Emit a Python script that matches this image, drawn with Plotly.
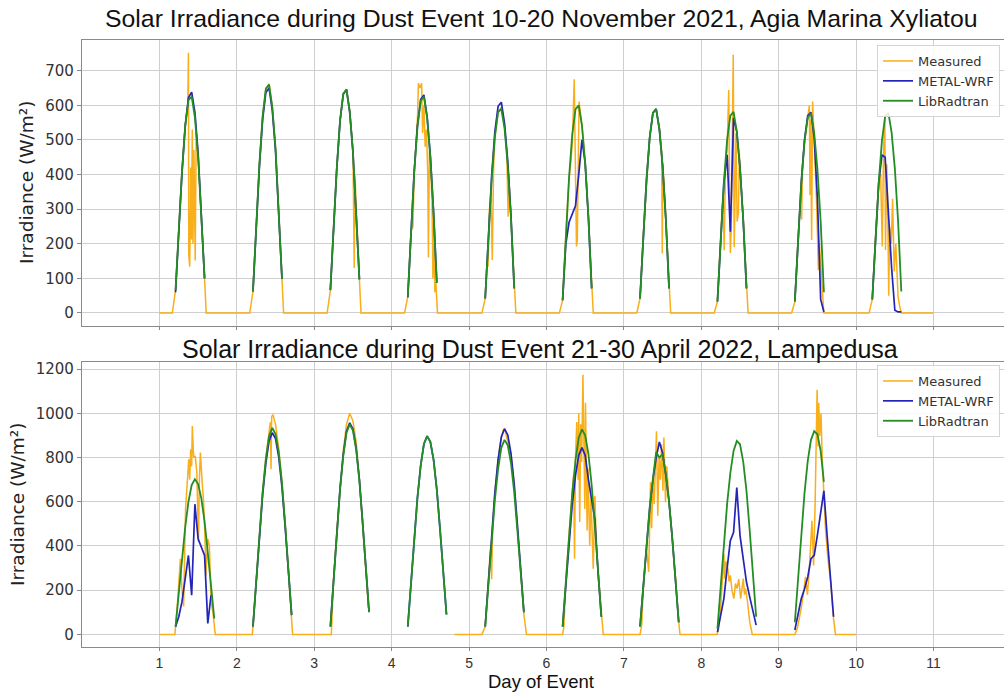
import plotly.graph_objects as go

# ---------------- DATA ----------------
# Top panel: 10-20 November 2021, Agia Marina Xyliatou (hourly model output, UTC hours)
NOV_DAYS = [1, 2, 3, 4, 5, 6, 7, 8, 9, 10]
NOV_HOURS = [5, 6, 7, 8, 9, 10, 11, 12, 13, 14]

NOV_LIBRADTRAN = [
    [66, 240, 408, 540, 615, 625, 565, 452, 289, 100],
    [62, 251, 430, 568, 648, 660, 595, 476, 304, 98],
    [66, 245, 420, 556, 633, 646, 581, 465, 297, 97],
    [47, 238, 406, 538, 613, 625, 563, 450, 288, 87],
    [42, 225, 385, 509, 580, 590, 533, 426, 272, 71],
    [37, 228, 391, 517, 589, 600, 541, 433, 276, 71],
    [42, 224, 384, 507, 578, 589, 531, 425, 271, 71],
    [33, 221, 378, 500, 570, 581, 524, 419, 268, 71],
    [33, 219, 375, 496, 566, 577, 520, 415, 265, 60],
    [39, 220, 376, 498, 567, 578, 521, 417, 266, 62],
]

NOV_METAL_WRF = [
    [60, 236, 405, 540, 622, 638, 580, 462, 295, 100],
    [62, 247, 423, 559, 637, 650, 585, 468, 299, 98],
    [66, 245, 420, 555, 632, 645, 581, 465, 297, 97],
    [45, 240, 410, 542, 617, 630, 567, 454, 290, 87],
    [42, 231, 396, 524, 597, 609, 548, 438, 280, 71],
    [37, 200, 262, 285, 310, 400, 500, 433, 276, 71],
    [42, 224, 384, 507, 578, 590, 531, 425, 271, 71],
    [33, 215, 375, 457, 235, 563, 524, 419, 268, 71],
    [33, 219, 378, 500, 570, 580, 505, 330, 40, 3],
    [39, 220, 376, 457, 450, 290, 130, 8, 3, 3],
]

# Measured: (hour, W/m2) pairs per day
NOV_MEAS_D1 = [(0, 0), (4.0, 0), (5, 66), (6, 240), (7, 410), (8, 545), (8.8, 600), (9.0, 752), (9.1, 170),
               (9.4, 134), (9.7, 420), (9.9, 212), (10.2, 530), (10.4, 200), (10.7, 471), (11.1, 152),
               (11.4, 520), (12, 452), (13, 290), (14, 100), (14.5, 0)]
NOV_MEAS_D2 = [(4.0, 0), (5, 62), (6, 251), (7, 430), (8, 568), (9, 648), (10, 662), (11, 595), (12, 476),
               (13, 304), (14, 98), (14.5, 0)]
NOV_MEAS_D3 = [(4.0, 0), (5, 66), (6, 245), (7, 420), (8, 556), (9, 633), (10, 646), (11, 585), (12, 470),
               (12.4, 130), (12.6, 400), (13, 297), (14, 97), (14.5, 0)]
NOV_MEAS_D4 = [(4.0, 0), (5, 47), (6, 238), (6.6, 250), (7, 406), (8, 560), (8.3, 664), (8.8, 650), (9.3, 664),
               (9.6, 520), (10, 600), (10.4, 480), (10.8, 530), (11.2, 400), (11.4, 160), (11.7, 470),
               (12, 440), (12.5, 330), (12.8, 100), (13, 270), (13.4, 60), (13.7, 90), (14.2, 0)]
NOV_MEAS_D5 = [(4.0, 0), (5, 42), (5.6, 150), (5.9, 134), (6.3, 300), (6.8, 330), (7.2, 153), (7.6, 420),
               (8, 509), (9, 580), (10, 595), (11, 540), (11.7, 460), (12.1, 278), (12.3, 400), (13, 272),
               (14, 71), (14.5, 0)]
NOV_MEAS_D6 = [(4.0, 0), (5, 37), (6, 228), (7, 391), (7.6, 440), (8.05, 500), (8.6, 675), (9.0, 420),
               (9.3, 192), (9.55, 211), (9.8, 520), (10.1, 611), (11, 541), (12, 433), (13, 276), (14, 71),
               (14.5, 0)]
NOV_MEAS_D7 = [(4.0, 0), (5, 42), (6, 224), (7, 384), (8, 507), (9, 578), (10, 588), (11, 531), (11.7, 470),
               (11.9, 172), (12.1, 430), (13, 271), (14, 71), (14.5, 0)]
NOV_MEAS_D8 = [(4.0, 0), (5, 33), (6, 221), (6.7, 340), (7.1, 181), (7.5, 430), (8.0, 470), (8.5, 644),
               (8.8, 300), (9.0, 173), (9.3, 250), (9.6, 480), (9.9, 746), (10.2, 190), (10.5, 450),
               (10.75, 520), (11.1, 264), (11.5, 289), (11.8, 460), (12, 419), (13, 268), (14, 71), (14.5, 0)]
NOV_MEAS_D9 = [(4.0, 0), (5, 33), (6, 219), (6.8, 330), (7.1, 270), (7.4, 430), (8, 496), (9, 566), (9.5, 600),
               (9.7, 341), (9.9, 560), (10.2, 211), (10.5, 611), (10.8, 540), (11, 515), (11.8, 300),
               (12.3, 124), (12.6, 200), (13, 140), (13.5, 40), (14, 0)]
NOV_MEAS_D10 = [(4.0, 0), (5, 39), (6, 220), (7, 376), (7.6, 400), (8.1, 192), (8.5, 470), (8.9, 575),
                (9.1, 182), (9.5, 430), (9.8, 300), (10.1, 50), (10.4, 250), (10.9, 200), (11.3, 330),
                (11.8, 120), (12.3, 200), (13.0, 47), (13.5, 20), (14, 0), (24, 0)]
NOV_MEASURED = [NOV_MEAS_D1, NOV_MEAS_D2, NOV_MEAS_D3, NOV_MEAS_D4, NOV_MEAS_D5,
                NOV_MEAS_D6, NOV_MEAS_D7, NOV_MEAS_D8, NOV_MEAS_D9, NOV_MEAS_D10]

# Bottom panel: 21-30 April 2022, Lampedusa
APR_DAYS = [1, 2, 3, 4, 5, 6, 7, 8, 9]
APR_HOURS = [5, 6, 7, 8, 9, 10, 11, 12, 13, 14, 15, 16, 17]

APR_LIBRADTRAN = [
    [35, 180, 345, 485, 600, 675, 702, 680, 615, 510, 370, 215, 72],
    [35, 243, 458, 645, 794, 897, 934, 906, 822, 682, 495, 290, 87],
    [35, 247, 466, 656, 808, 912, 950, 922, 836, 694, 504, 295, 102],
    [35, 233, 440, 620, 763, 861, 897, 871, 789, 655, 475, 278, 90],
    [35, 229, 431, 608, 748, 845, 880, 855, 774, 642, 466, 273, 100],
    [35, 241, 454, 640, 788, 890, 927, 900, 816, 677, 491, 287, 80],
    [35, 215, 405, 575, 705, 825, 800, 815, 725, 600, 435, 255, 55],
    [25, 215, 410, 590, 730, 830, 875, 860, 780, 650, 470, 280, 80],
    [55, 245, 455, 640, 785, 880, 919, 905, 830, 690, None, None, None],
]

APR_METAL_WRF = [
    [35, 80, 148, 250, 357, 177, 589, 432, 390, 357, 50, 177, None],
    [35, 237, 447, 630, 775, 875, 912, 885, 802, 665, 483, 283, 87],
    [35, 249, 469, 661, 814, 919, 957, 929, 842, 699, 508, 297, 100],
    [35, 233, 440, 620, 763, 861, 897, 871, 789, 655, 475, 278, 90],
    [35, 242, 456, 642, 791, 893, 930, 902, 818, 679, 493, 288, 100],
    [35, 225, 420, 590, 720, 810, 845, 810, 700, 612, 520, 280, 80],
    [35, 215, 405, 570, 700, 800, 870, 820, 720, 600, 435, 255, 55],
    [10, 80, 162, 300, 424, 462, 664, 447, 330, 237, 170, 100, 42],
    [20, 90, 162, 205, 260, 342, 357, 450, 560, 649, 447, 250, 80],
]

APR_MEAS_D1 = [(0, 0), (4.8, 0), (5.5, 117), (6.5, 342), (7.0, 200), (7.5, 126), (8.1, 567), (8.6, 702),
               (9.1, 792), (9.4, 700), (9.7, 837), (10.0, 760), (10.2, 942), (10.6, 800), (11.1, 807),
               (11.6, 733), (12.1, 418), (12.4, 700), (12.7, 822), (13.2, 700), (13.7, 600), (14.1, 450),
               (14.4, 267), (15.0, 432), (15.5, 400), (16.0, 148), (16.6, 100), (17.3, 0)]
APR_MEAS_D2 = [(4.8, 0), (5, 35), (6, 243), (7, 458), (8, 645), (9, 800), (10, 920), (10.4, 960), (10.6, 747),
               (10.8, 985), (11.2, 994), (12, 950), (13, 840), (14, 690), (15, 500), (16, 290), (17, 87),
               (17.3, 0)]
APR_MEAS_D3 = [(5.3, 0), (6, 250), (7, 470), (8, 665), (9, 830), (10, 950), (11, 1000), (12, 965), (13, 870),
               (14, 700), (15, 505), (16, 295), (16.8, 120), None]
APR_MEAS_D4 = [(19.5, 0)]
APR_MEAS_D5 = [(4.0, 0), (5, 35), (6, 240), (6.7, 400), (7.0, 250), (7.3, 480), (8, 640), (9, 790), (10, 890),
               (10.6, 925), (11, 930), (11.5, 900), (12, 880), (13, 815), (14, 675), (15, 490), (16, 285),
               (17, 90), (17.8, 0)]
APR_MEAS_D6 = [(5.0, 0), (5.4, 35), (6, 240), (7, 454), (8, 640), (8.4, 720), (8.7, 342), (9.0, 800),
               (9.4, 960), (9.8, 700), (10.0, 1000), (10.3, 508), (10.6, 950), (10.9, 780), (11.3, 1174),
               (11.6, 850), (11.9, 567), (12.1, 1048), (12.4, 700), (12.6, 470), (12.9, 750), (13.2, 560),
               (13.4, 402), (13.8, 620), (14.2, 450), (14.5, 297), (15.0, 627), (15.5, 380), (16, 280),
               (17, 80), (17.6, 0)]
APR_MEAS_D7 = [(5.0, 0), (5.5, 40), (6, 200), (7, 390), (7.7, 283), (8.0, 560), (8.25, 688), (8.6, 480),
               (9.0, 700), (9.4, 590), (9.8, 850), (10.1, 919), (10.5, 537), (10.9, 800), (11.3, 700),
               (11.7, 860), (12.1, 650), (12.4, 891), (12.9, 598), (13.3, 760), (14, 600), (15, 435),
               (16, 255), (17, 55), (17.4, 0)]
APR_MEAS_D8 = [(4.8, 0), (5.3, 20), (6, 120), (6.6, 250), (7.0, 364), (7.2, 252), (7.6, 330), (8.2, 300),
               (8.6, 240), (9.0, 267), (9.5, 200), (10.1, 162), (10.6, 230), (11.1, 207), (11.6, 250),
               (12.2, 162), (12.6, 220), (13.0, 252), (13.4, 180), (13.7, 207), (14.3, 150), (15.0, 58),
               (15.8, 0)]
APR_MEAS_D9 = [(5.0, 0), (5.8, 30), (7.0, 120), (7.8, 200), (8.3, 260), (8.9, 180), (9.5, 300), (10.3, 514),
               (10.8, 312), (11.3, 600), (11.9, 1107), (12.2, 850), (12.4, 1048), (12.7, 897), (13.1, 1000),
               (13.5, 792), (14.0, 650), (14.5, 477), (15.2, 350), (16.1, 238), (17.0, 70), (17.6, 0),
               (24, 0)]
APR_MEASURED = [APR_MEAS_D1, APR_MEAS_D2, APR_MEAS_D3, APR_MEAS_D4, APR_MEAS_D5,
                APR_MEAS_D6, APR_MEAS_D7, APR_MEAS_D8, APR_MEAS_D9]

X_TICKS = [1, 2, 3, 4, 5, 6, 7, 8, 9, 10, 11]
TITLE_TOP = "Solar Irradiance during Dust Event 10-20 November 2021, Agia Marina Xyliatou"
TITLE_BOTTOM = "Solar Irradiance during Dust Event 21-30 April 2022, Lampedusa"
Y_LABEL = "Irradiance (W/m²)"
X_LABEL = "Day of Event"
SERIES_NAMES = ["Measured", "METAL-WRF", "LibRadtran"]


# ---------------- helpers ----------------
def model_xy(days, hours, values):
    xs, ys = [], []
    for d, vals in zip(days, values):
        for h, v in zip(hours, vals):
            xs.append(d + h / 24.0)
            ys.append(v)
        xs.append(None)
        ys.append(None)
    return xs, ys


def measured_xy(days, per_day):
    xs, ys = [], []
    for d, pts in zip(days, per_day):
        for p in pts:
            if p is None:
                xs.append(None)
                ys.append(None)
            else:
                xs.append(d + p[0] / 24.0)
                ys.append(p[1])
    return xs, ys


COL_MEAS = "#F9AE1B"
COL_WRF = "#2424B8"
COL_LIB = "#238E23"

fig = go.Figure()

panels = [
    (NOV_DAYS, NOV_HOURS, NOV_MEASURED, NOV_METAL_WRF, NOV_LIBRADTRAN, "x", "y", "legend"),
    (APR_DAYS, APR_HOURS, APR_MEASURED, APR_METAL_WRF, APR_LIBRADTRAN, "x2", "y2", "legend2"),
]
for days, hours, meas, wrf, lib, xa, ya, lg in panels:
    mx, my = measured_xy(days, meas)
    fig.add_trace(go.Scatter(x=mx, y=my, mode="lines", name=SERIES_NAMES[0],
                             line=dict(color=COL_MEAS, width=1.5), xaxis=xa, yaxis=ya, legend=lg,
                             connectgaps=False))
    wx, wy = model_xy(days, hours, wrf)
    fig.add_trace(go.Scatter(x=wx, y=wy, mode="lines", name=SERIES_NAMES[1],
                             line=dict(color=COL_WRF, width=1.7), xaxis=xa, yaxis=ya, legend=lg,
                             connectgaps=False))
    lx, ly = model_xy(days, hours, lib)
    fig.add_trace(go.Scatter(x=lx, y=ly, mode="lines", name=SERIES_NAMES[2],
                             line=dict(color=COL_LIB, width=1.8), xaxis=xa, yaxis=ya, legend=lg,
                             connectgaps=False))

W, H = 1004, 692
ML, MR, MT, MB = 82, 0, 40, 45
PH = H - MT - MB  # plot height in px


def py2paper(py):
    return (H - MB - py) / PH


def px2paper(px):
    return (px - ML) / (W - ML - MR)


GRID = "#cfcfcf"
SPINE = "#8a8a8a"
tickfont_y = dict(family="DejaVu Sans", size=15, color="#333")
tickfont_x = dict(family="Liberation Sans", size=14, color="#333")

xcommon = dict(range=[0, 11.91], tickmode="array", tickvals=X_TICKS, showgrid=True, gridcolor=GRID,
               gridwidth=1, showline=True, linecolor=SPINE, linewidth=1.2, mirror=True,
               ticks="outside", ticklen=3, tickcolor=SPINE, zeroline=False)
ycommon = dict(showgrid=True, gridcolor=GRID, gridwidth=1, showline=True, linecolor=SPINE, linewidth=1.2,
               mirror=False, ticks="outside", ticklen=4, tickcolor=SPINE, zeroline=False,
               tickfont=tickfont_y)

fig.update_layout(
    width=W, height=H,
    margin=dict(l=ML, r=MR, t=MT, b=MB),
    paper_bgcolor="white", plot_bgcolor="white",
    xaxis=dict(domain=[0, 1], anchor="y", showticklabels=False, **xcommon),
    yaxis=dict(domain=[py2paper(326), 1], anchor="x", range=[-37.6, 788.7], tickvals=[0, 100, 200, 300, 400, 500, 600, 700], **ycommon),
    xaxis2=dict(domain=[0, 1], anchor="y2", matches="x", showticklabels=True, tickfont=tickfont_x, **xcommon),
    yaxis2=dict(domain=[0, py2paper(362)], anchor="x2", range=[-57, 1232], tickvals=[0, 200, 400, 600, 800, 1000, 1200], **ycommon),
    legend=dict(x=px2paper(1000), y=py2paper(45), xanchor="right", yanchor="top", xref="paper", yref="paper",
                bgcolor="rgba(255,255,255,0.85)", bordercolor="#d4d4d4", borderwidth=1,
                font=dict(family="DejaVu Sans", size=13, color="#333"), tracegroupgap=0),
    legend2=dict(x=px2paper(1000), y=py2paper(365), xanchor="right", yanchor="top", xref="paper", yref="paper",
                 bgcolor="rgba(255,255,255,0.85)", bordercolor="#d4d4d4", borderwidth=1,
                 font=dict(family="DejaVu Sans", size=13, color="#333"), tracegroupgap=0),
    showlegend=True,
)

ann = [
    dict(text=TITLE_TOP, x=px2paper(541), y=py2paper(19),
         font=dict(family="Liberation Sans", size=24.8, color="#111")),
    dict(text=TITLE_BOTTOM, x=px2paper(540), y=py2paper(349),
         font=dict(family="Liberation Sans", size=25, color="#111")),
    dict(text=X_LABEL, x=px2paper(541), y=py2paper(681),
         font=dict(family="Liberation Sans", size=18.5, color="#111")),
    dict(text=Y_LABEL, x=px2paper(27), y=py2paper(183), textangle=-90,
         font=dict(family="DejaVu Sans", size=18.5, color="#222")),
    dict(text=Y_LABEL, x=px2paper(17), y=py2paper(505), textangle=-90,
         font=dict(family="DejaVu Sans", size=18.5, color="#222")),
]
for a in ann:
    fig.add_annotation(xref="paper", yref="paper", showarrow=False, xanchor="center", yanchor="middle", **a)

fig.write_html("out.html")
